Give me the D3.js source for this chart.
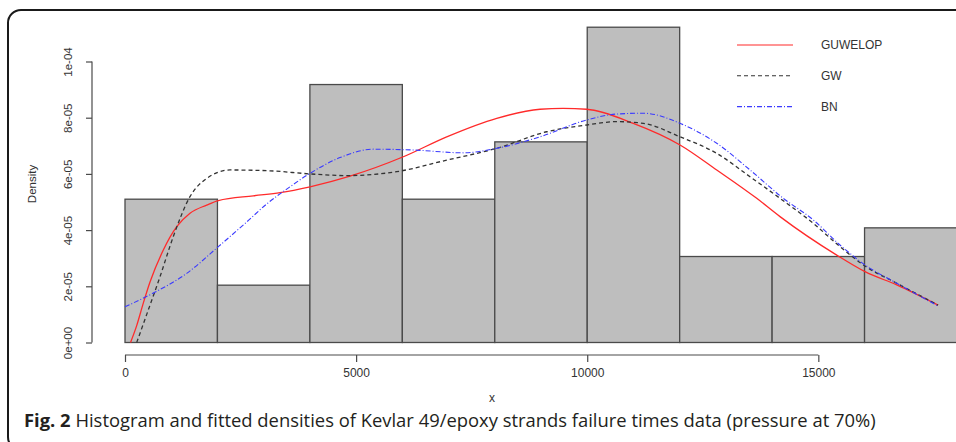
<!DOCTYPE html>
<html>
<head>
<meta charset="utf-8">
<script src="https://cdn.jsdelivr.net/npm/d3@7"></script>
<style>
    body { margin: 0; background: #fff; }
    svg { display: block; }
</style>
</head>
<body>
<svg id="chart"></svg>
<script>
// histogram of failure times, density in units of 1e-5
const binStarts = [0, 2000, 4000, 6000, 8000, 10000, 12000, 14000, 16000];
const binWidth = 2000;
const binDensity = [5.1, 2.04, 9.18, 5.1, 7.14, 11.22, 3.06, 3.06, 4.08];

// fitted densities: [x, density (1e-5)]
const guwelopCurve = [
    [120, 0], [253, 0.6], [396, 1.4], [541, 2.15], [829, 3.29], [1119, 4.12],
    [1406, 4.6], [1768, 4.89], [2019, 5.05], [2776, 5.22], [3354, 5.33],
    [4003, 5.54], [4868, 5.92], [6021, 6.61], [6960, 7.32], [8042, 7.98],
    [8979, 8.3], [9477, 8.33], [9989, 8.3], [10997, 7.8], [12008, 7.03],
    [12802, 6.14], [13667, 5.13], [14171, 4.48], [15398, 3.11], [16010, 2.52],
    [16696, 2.05], [17590, 1.33]
];
const gwCurve = [
    [253, 0], [470, 1.0], [757, 2.34], [1045, 3.77], [1406, 5.19], [1768, 5.84],
    [2272, 6.14], [3137, 6.11], [4003, 6.0], [4797, 5.94], [5878, 6.08],
    [6960, 6.49], [8042, 6.91], [9124, 7.5], [9989, 7.74], [10638, 7.86],
    [11214, 7.8], [12008, 7.32], [12802, 6.73], [13522, 5.9], [14171, 5.13],
    [14892, 4.24], [15469, 3.41], [16010, 2.72], [16696, 2.11], [17590, 1.33]
];
const bnCurve = [
    [0, 1.27], [612, 1.76], [1335, 2.46], [2019, 3.41], [2633, 4.29], [3066, 4.93],
    [3499, 5.46], [4003, 6.02], [4652, 6.58], [5372, 6.88], [6237, 6.85],
    [7319, 6.75], [8042, 6.91], [8979, 7.32], [9989, 7.92], [10638, 8.13],
    [11214, 8.16], [12008, 7.8], [12802, 7.09], [13522, 6.14], [14243, 5.13],
    [14892, 4.36], [15469, 3.47], [16010, 2.76], [16696, 2.11], [17590, 1.3]
];

const seriesNames = ["GUWELOP", "GW", "BN"];
const xTicks = [0, 5000, 10000, 15000];
const yTicks = [0, 2, 4, 6, 8, 10];
const yTickLabels = ["0e+00", "2e-05", "4e-05", "6e-05", "8e-05", "1e-04"];
const captionBold = "Fig. 2";
const captionText = " Histogram and fitted densities of Kevlar 49/epoxy strands failure times data (pressure at 70%)";

const width = 956, height = 442;
const axisColor = "#4a4a4a", textColor = "#333";
const font = "'Liberation Sans', Arial, sans-serif";

const svg = d3.select("#chart").attr("width", width).attr("height", height);

// frame round the figure
svg.append("rect")
    .attr("x", 8).attr("y", 10)
    .attr("width", 980).attr("height", 440)
    .attr("rx", 13)
    .attr("fill", "none")
    .attr("stroke", "#1a1a1a")
    .attr("stroke-width", 2);

const x = d3.scaleLinear().domain([0, 18000]).range([125, 957]);
const y = d3.scaleLinear().domain([0, 10]).range([342.5, 61.5]);

// bars
svg.append("g").selectAll("rect")
    .data(binStarts)
    .enter()
    .append("rect")
        .attr("x", d => x(d))
        .attr("y", (d, i) => y(binDensity[i]))
        .attr("width", d => x(d + binWidth) - x(d))
        .attr("height", (d, i) => y(0) - y(binDensity[i]))
        .attr("fill", "#bebebe")
        .attr("stroke", "#4a4a4a")
        .attr("stroke-width", 1.3);

// x axis, line only from first to last tick as in R
const xAxis = svg.append("g")
    .attr("transform", `translate(0, 355)`)
    .call(d3.axisBottom(x).tickValues(xTicks).tickSize(7).tickPadding(6).tickFormat(d3.format("d")));
xAxis.select(".domain").remove();
xAxis.append("line")
    .attr("x1", x(xTicks[0])).attr("x2", x(xTicks[xTicks.length - 1]))
    .attr("stroke", axisColor);
xAxis.selectAll("line").attr("stroke", axisColor).attr("stroke-width", 1.2);
xAxis.selectAll("text")
    .attr("fill", textColor)
    .style("font", `12px ${font}`);

// y axis with rotated labels
const yAxis = svg.append("g")
    .attr("transform", `translate(92, 0)`)
    .call(d3.axisLeft(y).tickValues(yTicks).tickSize(6).tickFormat((d, i) => yTickLabels[i]));
yAxis.select(".domain").remove();
yAxis.append("line")
    .attr("y1", y(yTicks[0])).attr("y2", y(yTicks[yTicks.length - 1]))
    .attr("stroke", axisColor);
yAxis.selectAll("line").attr("stroke", axisColor).attr("stroke-width", 1.2);
yAxis.selectAll("text")
    .attr("x", null).attr("dy", null)
    .attr("text-anchor", "middle")
    .attr("transform", "translate(-20, 0) rotate(-90)")
    .attr("fill", textColor)
    .style("font", `11.5px ${font}`);

svg.append("text")
    .attr("transform", "translate(36, 184) rotate(-90)")
    .attr("text-anchor", "middle")
    .attr("fill", textColor)
    .style("font", `11.5px ${font}`)
    .text("Density");

svg.append("text")
    .attr("x", 492).attr("y", 402)
    .attr("text-anchor", "middle")
    .attr("fill", textColor)
    .style("font", `12px ${font}`)
    .text("x");

// fitted density curves
const line = d3.line()
    .x(d => x(d[0]))
    .y(d => y(d[1]))
    .curve(d3.curveMonotoneX);

const styles = [
    { color: "#ff2a2a", dash: null, width: 1.3 },
    { color: "#333", dash: "4,3", width: 1.3 },
    { color: "#3a3aff", dash: "5,2,1,2", width: 1.1 }
];

svg.append("g").selectAll("path")
    .data([guwelopCurve, gwCurve, bnCurve])
    .enter()
    .append("path")
        .attr("fill", "none")
        .attr("stroke", (d, i) => styles[i].color)
        .attr("stroke-width", (d, i) => styles[i].width)
        .attr("stroke-dasharray", (d, i) => styles[i].dash)
        .attr("d", line);

// legend
const legend = svg.append("g").selectAll("g")
    .data(seriesNames)
    .enter()
    .append("g")
        .attr("transform", (d, i) => `translate(737, ${45 + i * 30.8})`);
legend.append("line")
    .attr("x1", 0).attr("x2", 56)
    .attr("stroke", (d, i) => styles[i].color)
    .attr("stroke-width", 1.1)
    .attr("stroke-dasharray", (d, i) => styles[i].dash);
legend.append("text")
    .attr("x", 84).attr("dy", "0.35em")
    .attr("fill", textColor)
    .style("font", `12px ${font}`)
    .text(d => d);

// caption
const caption = svg.append("text")
    .attr("x", 24).attr("y", 427)
    .attr("fill", "#231f20")
    .style("font", "18.4px 'Open Sans', sans-serif");
caption.append("tspan").attr("font-weight", "bold").text(captionBold);
caption.append("tspan").text(captionText);
</script>
</body>
</html>
